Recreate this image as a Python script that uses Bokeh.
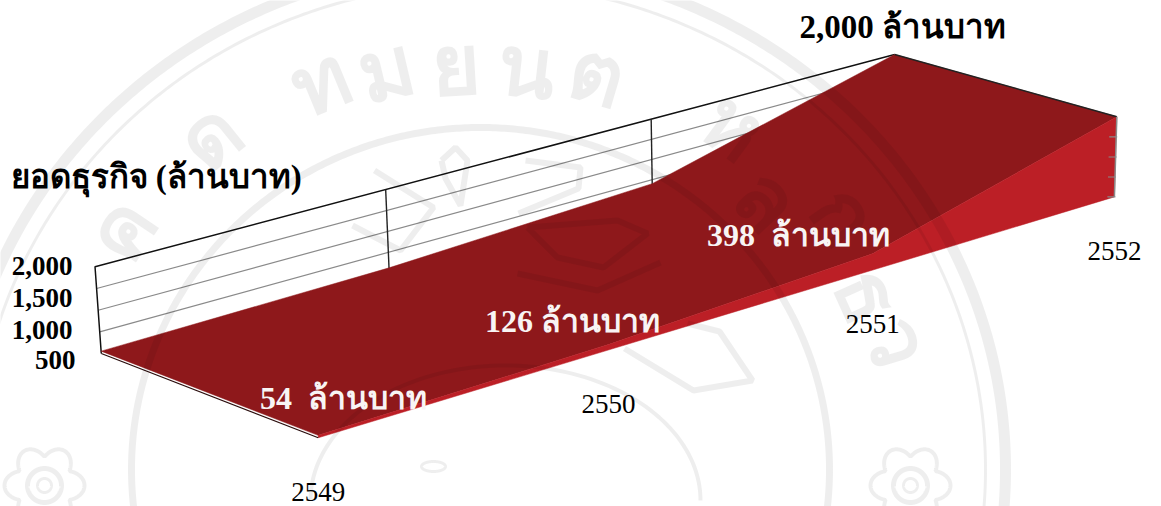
import numpy as np
from bokeh.core.properties import value
from bokeh.embed import file_html
from bokeh.models import Range1d
from bokeh.plotting import figure
from bokeh.resources import INLINE

# Chart data
years = ["2549", "2550", "2551", "2552"]
revenue = [54, 126, 398, 2000]
value_labels = ["54\u00a0 ล้านบาท", "126 ล้านบาท", "398\u00a0 ล้านบาท"]
peak_label = "2,000 ล้านบาท"
axis_title = "ยอดธุรกิจ (ล้านบาท)"
axis_levels = [500, 1000, 1500, 2000]
axis_tick_labels = ["500", "1,000", "1,500", "2,000"]

# Camera calibration: box corners (year index, amount, depth) and where they land on the page
BOX_WORLD = [(0, 0, 0), (0, 2000, 0), (3, 0, 0), (3, 2000, 0), (0, 0, 1), (3, 0, 1), (3, 2000, 1),
             (1, 2000, 0), (2, 2000, 0), (1, 126, 0), (2, 398, 0)]
BOX_PAGE = [(101, 351), (94, 267), (894, 132), (894, 54), (318, 438), (1114, 196), (1116, 116),
            (386, 189), (651, 118), (388, 268), (651, 184)]


def fit_camera(world, page):
    rows = []
    for (i, v, d), (x, y) in zip(world, page):
        w = [i, v / 1000, d, 1]
        rows.append(w + [0, 0, 0, 0] + [-x * c for c in w])
        rows.append([0, 0, 0, 0] + w + [-y * c for c in w])
    return np.linalg.svd(np.array(rows, float))[2][-1].reshape(3, 4)


CAMERA = fit_camera(BOX_WORLD, BOX_PAGE)


def project(i, v, d):
    h = CAMERA @ np.array([i, v / 1000, d, 1.0])
    return h[0] / h[2], h[1] / h[2]


def path(points):
    xy = [project(*pt) for pt in points]
    return [q[0] for q in xy], [q[1] for q in xy]


WATERMARK = "#000000"
WM_ALPHA = 0.068
RED_TOP = "#8E181B"
RED_FRONT = "#BC1F26"
SERIF = value("Liberation Serif")

p = figure(width=1161, height=506, output_backend="svg", toolbar_location=None,
           x_range=Range1d(0, 1161), y_range=Range1d(506, 0),
           min_border=0, outline_line_color=None)
p.axis.visible = False
p.grid.visible = False
p.background_fill_color = "#ffffff"
p.border_fill_color = "#ffffff"

n = len(years)

# Back wall: grid levels, year dividers and the wall frame
for level in axis_levels[:-1]:
    xs, ys = path([(0, level, 0), (n - 1, level, 0)])
    p.line(xs, ys, line_color="#8a8a8a", line_width=1.2)
xs, ys = path([(0, 0, 0), (0, 2000, 0), (n - 1, 2000, 0)])
p.line(xs, ys, line_color="#111111", line_width=1.5)
for i in range(1, n - 1):
    xs, ys = path([(i, 0, 0), (i, 2000, 0)])
    p.line(xs, ys, line_color="#222222", line_width=1.4)

# Area roof, from the back edge round to the front edge
back = [(i, revenue[i], 0) for i in range(n)]
front = [(i, revenue[i], 1) for i in range(n)]
xs, ys = path(back + front[::-1])
p.patch(xs, ys, fill_color=RED_TOP, line_color=RED_TOP, line_width=0.5)

# Front face of the area
xs, ys = path(front + [(n - 1, 0, 1), (0, 0, 1)])
p.patch(xs, ys, fill_color=RED_FRONT, line_color=RED_FRONT, line_width=0.5)

# Ridge and floor edges
xs, ys = path([(n - 1, 2000, 0), (n - 1, 2000, 1)])
p.line(xs, ys, line_color="#222222", line_width=1.4)
xs, ys = path([(0, 0, 0), (0, 0, 1)])
p.line(xs, ys, line_color="#2a0c0c", line_width=1.2)

# Right-hand scale with its ticks
xs, ys = path([(n - 1, 0, 1), (n - 1, 2000, 1)])
p.line(xs, ys, line_color="#8a8a8a", line_width=1.5)
for level in [0, 500, 1000, 1500]:
    x, y = project(n - 1, level, 1)
    p.line([x - 7, x + 1], [y, y], line_color="#8a8a8a", line_width=1.2)

# Seal printed faintly across the page: rings, lettering, flowers
t = np.linspace(0, 2 * np.pi, 721)
CX, CY = 480, 469
for rx, ry, thick in [(525, 506, 11), (505, 486, 3), (349, 342, 7)]:
    ring_x = np.concatenate([CX + (rx + thick / 2) * np.cos(t), CX + (rx - thick / 2) * np.cos(t[::-1])])
    ring_y = np.concatenate([CY + (ry + thick / 2) * np.sin(t), CY + (ry - thick / 2) * np.sin(t[::-1])])
    p.patch(ring_x, ring_y, fill_color=WATERMARK, fill_alpha=WM_ALPHA, line_color=None)

seal_glyphs = ["ค", "ด", "ท", "ม", "ย", "น", "ต", "ห", "ล", "ก", "ธ", "ว"]
seal_x = [118, 207, 318, 385, 455, 526, 598, 735, 769, 847, 871, 900]
seal_y = [227, 133, 78, 66, 62, 63, 70, 123, 197, 213, 293, 341]
seal_angle = [float(-np.arctan2(x - CX, CY - y)) for x, y in zip(seal_x, seal_y)]
p.text(seal_x, seal_y, text=seal_glyphs, angle=seal_angle, text_font=value("Noto Sans"),
       text_font_style="bold", text_font_size="84px", text_align="center", text_baseline="middle",
       text_color=WATERMARK, text_alpha=WM_ALPHA)

theta = np.linspace(0, 2 * np.pi, 361)
for fx, fy in [(44, 485), (910, 485)]:
    radius = 40 * (0.72 + 0.28 * np.abs(np.cos(3 * theta)))
    p.line(fx + radius * np.cos(theta), fy + radius * np.sin(theta),
           line_color=WATERMARK, line_alpha=WM_ALPHA, line_width=4)
    p.line(fx + 17 * np.cos(theta), fy + 17 * np.sin(theta),
           line_color=WATERMARK, line_alpha=WM_ALPHA, line_width=5)
    p.line(fx + 7 * np.cos(theta), fy + 7 * np.sin(theta),
           line_color=WATERMARK, line_alpha=WM_ALPHA, line_width=3)

# Emblem outlines inside the inner ring
emblem_x = [[624, 693, 752, 719, 687], [374, 433, 400, 352], [441, 455, 467, 460, 445, 441],
            [527, 617, 647, 603, 557, 527], [517, 597, 660], [518, 578, 580, 525]]
emblem_y = [[348, 390, 380, 331, 323], [170, 207, 250, 225], [160, 147, 160, 205, 178, 160],
            [227, 220, 233, 267, 257, 227], [273, 290, 262], [213, 188, 167, 160]]
p.multi_line(emblem_x, emblem_y, line_color=WATERMARK, line_alpha=WM_ALPHA, line_width=6)

# Elephant head at the foot of the emblem
arc = np.linspace(np.pi, 2 * np.pi, 91)
p.line(505 + 195 * np.cos(arc), 500 + 135 * np.sin(arc),
       line_color=WATERMARK, line_alpha=WM_ALPHA, line_width=4)
p.line(433 + 12 * np.cos(theta), 466 + 5 * np.sin(theta),
       line_color=WATERMARK, line_alpha=WM_ALPHA, line_width=3)

# Amount axis, printed beside the back wall
tick_x = [75, 72, 72, 72]
tick_y = [359, 329, 297, 265]
p.text(tick_x, tick_y, text=axis_tick_labels, text_font=SERIF, text_font_style="bold",
       text_font_size="27px", text_align="right", text_baseline="middle", text_color="#000000")

p.text([10], [176], text=[axis_title], text_font=SERIF, text_font_style="bold",
       text_font_size="33px", text_align="left", text_baseline="middle", text_color="#000000")

# Year labels hang a fixed distance below the front floor edge
for i, year in enumerate(years):
    x, y = project(i, 0, 1)
    p.text([x], [y + 54], text=[year], text_font=SERIF, text_font_size="27px",
           text_align="center", text_baseline="middle", text_color="#000000")

# Amount labels on the area
label_x = [343, 572, 798]
label_y = [397, 320, 234]
p.text(label_x, label_y, text=value_labels, text_font=SERIF, text_font_style="bold",
       text_font_size="32px", text_align="center", text_baseline="middle", text_color="#f8f4f4")

px, py = project(n - 1, revenue[-1], 0)
p.text([px + 8], [py - 28], text=[peak_label], text_font=SERIF, text_font_style="bold",
       text_font_size="33px", text_align="center", text_baseline="middle", text_color="#000000")

open("out.html", "w").write(file_html(p, INLINE))
